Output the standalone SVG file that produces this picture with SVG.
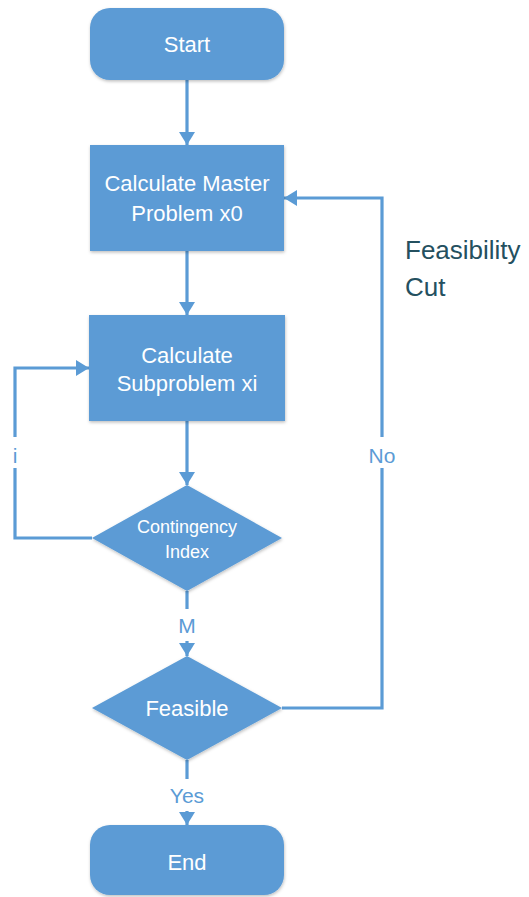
<svg xmlns="http://www.w3.org/2000/svg" width="529" height="897" viewBox="0 0 529 897">
  <style>
    .shape { fill: #5b9bd5; filter: url(#shadow); }
    .label { font-family: "Liberation Sans", Arial, sans-serif; fill: #ffffff; text-anchor: middle; dominant-baseline: central; }
    .big { font-size: 22px; }
    .small { font-size: 18px; }
    .edge { fill: none; stroke: #5b9bd5; stroke-width: 3.2; }
    .edge-label { font-family: "Liberation Sans", Arial, sans-serif; font-size: 21px; fill: #5b9bd5; text-anchor: middle; dominant-baseline: central; }
    .note { font-family: "Liberation Sans", Arial, sans-serif; font-size: 26px; fill: #24505f; }
  </style>
  <defs>
    <filter id="shadow" x="-10%" y="-10%" width="120%" height="130%">
      <feDropShadow dx="0.5" dy="1.5" stdDeviation="1.5" flood-color="#000000" flood-opacity="0.25"/>
    </filter>
    <marker id="arrow" markerUnits="userSpaceOnUse" markerWidth="16" markerHeight="16" refX="13" refY="8" orient="auto">
      <path d="M0,0 L13,8 L0,16 Z" fill="#5b9bd5"/>
    </marker>
  </defs>

  <rect width="529" height="897" fill="#ffffff"/>

  <!-- connectors -->
  <g id="connectors">
    <line class="edge" x1="187" y1="80" x2="187" y2="145" marker-end="url(#arrow)"/>
    <line class="edge" x1="187" y1="251" x2="187" y2="315" marker-end="url(#arrow)"/>
    <line class="edge" x1="187" y1="421" x2="187" y2="485" marker-end="url(#arrow)"/>
    <!-- loop back over contingencies -->
    <polyline class="edge" points="92,538 15,538 15,468"/>
    <polyline class="edge" points="15,437 15,368 89,368" marker-end="url(#arrow)"/>
    <text class="edge-label" x="15" y="455">i</text>
    <!-- contingency to feasibility check -->
    <line class="edge" x1="187" y1="591" x2="187" y2="609"/>
    <line class="edge" x1="187" y1="641" x2="187" y2="656" marker-end="url(#arrow)"/>
    <text class="edge-label" x="187" y="625">M</text>
    <!-- infeasible: feasibility cut back to master -->
    <polyline class="edge" points="282,708 382,708 382,468"/>
    <polyline class="edge" points="382,437 382,198 284,198" marker-end="url(#arrow)"/>
    <text class="edge-label" x="382" y="455">No</text>
    <!-- feasible: finish -->
    <line class="edge" x1="187" y1="760" x2="187" y2="779"/>
    <line class="edge" x1="187" y1="811" x2="187" y2="825" marker-end="url(#arrow)"/>
    <text class="edge-label" x="187" y="795">Yes</text>
  </g>

  <g id="start">
    <rect class="shape" x="90" y="8" width="194" height="72" rx="20" ry="20"/>
    <text class="label big" x="187" y="44">Start</text>
  </g>

  <g id="master">
    <rect class="shape" x="90" y="145" width="194" height="106"/>
    <text class="label big" x="187" y="183">Calculate Master</text>
    <text class="label big" x="187" y="213">Problem x0</text>
  </g>

  <g id="subproblem">
    <rect class="shape" x="89" y="315" width="196" height="106"/>
    <text class="label big" x="187" y="355">Calculate</text>
    <text class="label big" x="187" y="383">Subproblem xi</text>
  </g>

  <g id="contingency">
    <polygon class="shape" points="187,485 282,538 187,591 92,538"/>
    <text class="label small" x="187" y="527">Contingency</text>
    <text class="label small" x="187" y="552">Index</text>
  </g>

  <g id="feasible">
    <polygon class="shape" points="187,656 282,708 187,760 92,708"/>
    <text class="label big" x="187" y="708">Feasible</text>
  </g>

  <g id="end">
    <rect class="shape" x="90" y="825" width="194" height="70" rx="20" ry="20"/>
    <text class="label big" x="187" y="862">End</text>
  </g>

  <g id="feasibility-cut">
    <text class="note" x="405" y="259">Feasibility</text>
    <text class="note" x="405" y="296">Cut</text>
  </g>
</svg>
